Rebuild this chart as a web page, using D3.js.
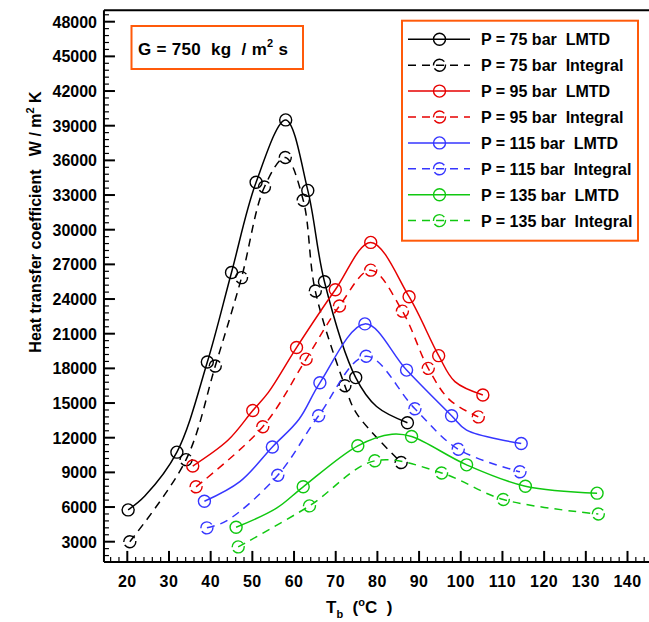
<!DOCTYPE html>
<html lang="en">
<head>
  <meta charset="UTF-8" />
  <title>Heat transfer coefficient vs Tb</title>
  <script src="https://d3js.org/d3.v7.min.js"></script>
  <style>
    body { margin: 0; background: #fff; }
    svg { display: block; font-family: "Liberation Sans", Arial, sans-serif; }
    text { white-space: pre; }
  </style>
</head>
<body>
  <div id="vis-container"></div>

  <script>
    // ---- data (Tb in °C, h in W/m2K); m = 1 where a symbol is drawn
    const t75L = [20.2, 24.2, 31.9, 39.2, 45.0, 50.9, 58.0, 63.3, 67.3, 74.8, 79.8, 87.2];
    const h75L = [5750, 6950, 10750, 18550, 26300, 34100, 39500, 33400, 25500, 17200, 14700, 13300];
    const m75L = [1, 0, 1, 1, 1, 1, 1, 1, 1, 1, 0, 1];

    const t75I = [20.6, 34.1, 41.1, 47.4, 52.9, 57.9, 62.2, 65.1, 72.2, 75.0, 85.7];
    const h75I = [3000, 10100, 18200, 25850, 33700, 36250, 32550, 24700, 16500, 14100, 9850];
    const m75I = [1, 1, 1, 1, 1, 1, 1, 1, 1, 0, 1];

    const t95L = [35.7, 44.2, 50.1, 53.8, 60.6, 69.9, 78.4, 87.6, 94.7, 98.6, 105.3];
    const h95L = [9550, 11800, 14350, 15900, 19800, 24800, 28900, 24200, 19100, 16850, 15700];
    const m95L = [1, 0, 1, 0, 1, 1, 1, 1, 1, 0, 1];

    const t95I = [36.5, 52.5, 62.9, 70.9, 78.4, 86.0, 92.2, 97.4, 104.2];
    const h95I = [7750, 12950, 18800, 23400, 26500, 22950, 18000, 15250, 13800];
    const m95I = [1, 1, 1, 1, 1, 1, 1, 0, 1];

    const t115L = [38.5, 47.0, 54.8, 61.2, 66.2, 77.0, 87.0, 97.8, 101.4, 114.5];
    const h115L = [6500, 8200, 11200, 13600, 16750, 21850, 17850, 13900, 12650, 11500];
    const m115L = [1, 0, 1, 0, 1, 1, 1, 1, 0, 1];

    const t115I = [39.1, 43.8, 56.1, 65.9, 77.3, 89.0, 99.4, 114.2];
    const h115I = [4200, 4800, 8750, 13900, 19050, 14500, 11000, 9050];
    const m115I = [1, 0, 1, 1, 1, 1, 1, 1];

    const t135L = [46.1, 55.8, 62.2, 75.3, 83.5, 88.2, 101.4, 115.5, 132.7];
    const h135L = [4250, 5900, 7750, 11300, 12300, 12100, 9650, 7800, 7200];
    const m135L = [1, 0, 1, 1, 0, 1, 1, 1, 1];

    const t135I = [46.6, 63.7, 79.4, 95.4, 110.2, 133.0];
    const h135I = [2550, 6100, 10000, 8950, 6650, 5400];
    const m135I = [1, 1, 1, 1, 1, 1];

    const legendLabels = [
      "P = 75 bar  LMTD", "P = 75 bar  Integral",
      "P = 95 bar  LMTD", "P = 95 bar  Integral",
      "P = 115 bar  LMTD", "P = 115 bar  Integral",
      "P = 135 bar  LMTD", "P = 135 bar  Integral"
    ];
    const xTicks = d3.range(20, 141, 10);
    const yTicks = d3.range(3000, 48001, 3000);

    const colors = ["#000000", "#e60000", "#3636ff", "#10c810"];

    const series = [
      [t75L, h75L, m75L], [t75I, h75I, m75I],
      [t95L, h95L, m95L], [t95I, h95I, m95I],
      [t115L, h115L, m115L], [t115I, h115I, m115I],
      [t135L, h135L, m135L], [t135I, h135I, m135I]
    ].map(([t, h, m], i) => ({
      label: legendLabels[i],
      color: colors[Math.floor(i / 2)],
      dashed: i % 2 === 1,
      pts: t.map((v, j) => ({ t: v, h: h[j], m: m[j] }))
    }));

    const W = 649, H = 622;
    const x = d3.scaleLinear().domain([20, 140]).range([127.3, 627.5]);
    const y = d3.scaleLinear().domain([3000, 48000]).range([541.7, 21.7]);
    const xLo = 14.4, xHi = 146, yLo = 1250, yHi = 49000;

    const svg = d3.select("#vis-container").append("svg")
      .attr("width", W).attr("height", H);

    const DASH = "8 6";
    const MDASH = "15 3";

    // lines
    const line = d3.line()
      .x(d => x(d.t)).y(d => y(d.h))
      .curve(d3.curveCatmullRom.alpha(0.5));

    series.forEach(s => {
      svg.append("path")
        .datum(s.pts)
        .attr("fill", "none")
        .attr("stroke", s.color)
        .attr("stroke-width", 1.5)
        .attr("stroke-dasharray", s.dashed ? DASH : null)
        .attr("d", line);

      svg.selectAll(null)
        .data(s.pts.filter(d => d.m))
        .enter().append("circle")
        .attr("cx", d => x(d.t))
        .attr("cy", d => y(d.h))
        .attr("r", 6)
        .attr("fill", "none")
        .attr("stroke", s.color)
        .attr("stroke-width", 1.4)
        .attr("stroke-dasharray", s.dashed ? MDASH : null);
    });

    // frame + ticks (inward)
    const axisG = svg.append("g").attr("stroke", "#000");
    axisG.append("line")
      .attr("x1", x(xLo)).attr("x2", x(xLo)).attr("y1", y(yHi)).attr("y2", y(yLo))
      .attr("stroke-width", 2);
    axisG.append("line")
      .attr("x1", x(xLo)).attr("x2", x(xHi)).attr("y1", y(yLo)).attr("y2", y(yLo))
      .attr("stroke-width", 2);
    axisG.append("line")
      .attr("x1", x(xLo)).attr("x2", x(xHi)).attr("y1", y(yHi)).attr("y2", y(yHi))
      .attr("stroke-width", 2);

    const yMinor = d3.range(1800, 48601, 600).filter(v => v % 3000 !== 0);
    axisG.selectAll(null).data(yMinor).enter().append("line")
      .attr("x1", x(xLo)).attr("x2", x(xLo) + 5)
      .attr("y1", d => y(d)).attr("y2", d => y(d)).attr("stroke-width", 1.2);
    axisG.selectAll(null).data(yTicks).enter().append("line")
      .attr("x1", x(xLo)).attr("x2", x(xLo) + 11)
      .attr("y1", d => y(d)).attr("y2", d => y(d)).attr("stroke-width", 2);

    const xMinor = d3.range(16, 145, 2).filter(v => v % 10 !== 0);
    axisG.selectAll(null).data(xMinor).enter().append("line")
      .attr("x1", d => x(d)).attr("x2", d => x(d))
      .attr("y1", y(yLo)).attr("y2", y(yLo) - 5).attr("stroke-width", 1.2);
    axisG.selectAll(null).data(xTicks).enter().append("line")
      .attr("x1", d => x(d)).attr("x2", d => x(d))
      .attr("y1", y(yLo)).attr("y2", y(yLo) - 11).attr("stroke-width", 2);

    // tick labels
    svg.selectAll(null).data(yTicks).enter().append("text")
      .attr("x", 97).attr("y", d => y(d) + 6)
      .attr("text-anchor", "end")
      .style("font-size", "16px").style("font-weight", "bold")
      .text(d => d);

    svg.selectAll(null).data(xTicks).enter().append("text")
      .attr("x", d => x(d)).attr("y", 587)
      .attr("text-anchor", "middle")
      .style("font-size", "16px").style("font-weight", "bold")
      .style("letter-spacing", "0.5px")
      .text(d => d);

    // axis titles
    const yt = svg.append("text")
      .attr("transform", "translate(41,222) rotate(-90)")
      .attr("text-anchor", "middle")
      .style("font-size", "16px").style("font-weight", "bold");
    yt.append("tspan").text("Heat transfer coefficient   W / m");
    yt.append("tspan").attr("dy", -7).style("font-size", "11px").text("2");
    yt.append("tspan").attr("dy", 7).text(" K");

    const xt = svg.append("text")
      .attr("x", 326).attr("y", 613)
      .style("font-size", "17px").style("font-weight", "bold");
    xt.append("tspan").text("T");
    xt.append("tspan").attr("dy", 5).style("font-size", "11px").text("b");
    xt.append("tspan").attr("dy", -5).text("  (");
    xt.append("tspan").attr("dy", -7).style("font-size", "11px").text("o");
    xt.append("tspan").attr("dy", 7).text("C  )");

    // G annotation box
    const orange = "#ff5a0a";
    svg.append("rect")
      .attr("x", 131.5).attr("y", 26).attr("width", 171.5).attr("height", 43)
      .attr("fill", "#fff").attr("stroke", orange).attr("stroke-width", 2);
    const gt = svg.append("text")
      .attr("x", 138).attr("y", 55)
      .style("font-size", "17px").style("font-weight", "bold")
      .style("letter-spacing", "0.3px");
    gt.append("tspan").text("G = 750  kg  / m");
    gt.append("tspan").attr("dy", -8).style("font-size", "11px").text("2");
    gt.append("tspan").attr("dy", 8).text(" s");

    // legend
    svg.append("rect")
      .attr("x", 402).attr("y", 20.7).attr("width", 236).attr("height", 220)
      .attr("fill", "#fff").attr("stroke", orange).attr("stroke-width", 2);

    const lg = svg.append("g").selectAll("g").data(series).enter().append("g")
      .attr("transform", (d, i) => `translate(0,${39.3 + i * 25.9})`);
    lg.append("line")
      .attr("x1", 408).attr("x2", 470).attr("y1", 0).attr("y2", 0)
      .attr("stroke", d => d.color).attr("stroke-width", 1.5)
      .attr("stroke-dasharray", d => d.dashed ? DASH : null);
    lg.append("circle")
      .attr("cx", 439.5).attr("cy", 0).attr("r", 6)
      .attr("fill", "none").attr("stroke", d => d.color).attr("stroke-width", 1.4)
      .attr("stroke-dasharray", d => d.dashed ? MDASH : null);
    lg.append("text")
      .attr("x", 481).attr("y", 6)
      .style("font-size", "16px").style("font-weight", "bold")
      .text(d => d.label);
  </script>
</body>
</html>
